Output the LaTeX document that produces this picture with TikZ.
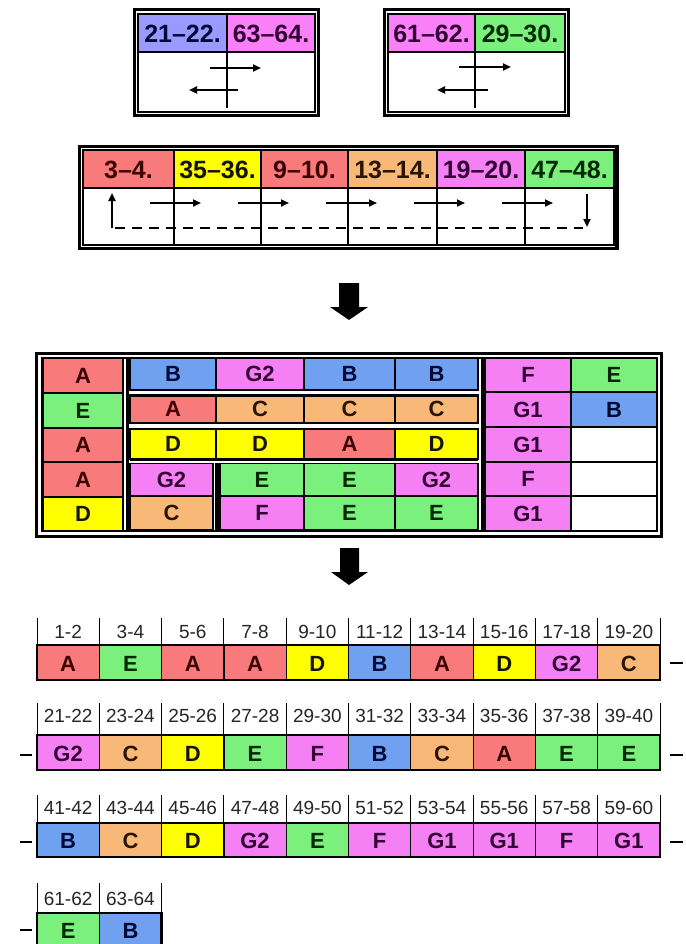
\documentclass[tikz,border=0pt]{standalone}
\usepackage{fontspec}
\setmainfont{Liberation Sans}
\usetikzlibrary{arrows.meta}
\definecolor{fillA}{RGB}{248,122,122}
\definecolor{fillE}{RGB}{124,240,124}
\definecolor{fillB}{RGB}{112,160,240}
\definecolor{fillD}{RGB}{255,255,0}
\definecolor{fillC}{RGB}{248,184,120}
\definecolor{fillF}{RGB}{244,128,244}
\colorlet{fillG1}{fillF}
\colorlet{fillG2}{fillF}
\definecolor{fillHB}{RGB}{152,154,255}
\definecolor{fillHM}{RGB}{250,128,250}
\definecolor{txtA}{RGB}{60,0,0}
\definecolor{txtE}{RGB}{0,40,0}
\definecolor{txtB}{RGB}{0,10,55}
\definecolor{txtD}{RGB}{20,20,0}
\definecolor{txtC}{RGB}{40,20,0}
\definecolor{txtF}{RGB}{50,0,50}
\colorlet{txtG1}{txtF}
\colorlet{txtG2}{txtF}
\tikzset{
  gridline/.style={draw=black, line width=1.2pt},
  letter/.style={font=\bfseries\fontsize{22}{22}\selectfont, inner sep=0pt},
  headtxt/.style={font=\bfseries\fontsize{25}{25}\selectfont, inner sep=0pt},
  numlbl/.style={font=\fontsize{19}{19}\selectfont, inner sep=0pt, text=black!85},
  arr/.style={line width=2pt, -{Triangle[length=8pt,width=7pt]}},
  divline/.style={line width=1.5pt},
  tickline/.style={line width=0.9pt},
  outerframe/.style={line width=3.5pt},
  innerframe/.style={line width=1.5pt},
  sepline/.style={line width=3pt},
  dashmark/.style={line width=1.5pt},
  bigarrow/.style={fill=black},
}
% letter cell: name, x1, y1, x2, y2, letter
\newcommand\lcell[6]{%
  \filldraw[fill=fill#6, gridline] (#2,#3) rectangle (#4,#5);
  \node[letter, text=txt#6] (#1) at ({(#2+#4)/2},{(#3+#5)/2}) {#6};}
% header cell: name, x1, y1, x2, y2, fill, text colour, text
\newcommand\hcell[8]{%
  \filldraw[fill=#6, gridline] (#2,#3) rectangle (#4,#5);
  \node[headtxt, text=#7] (#1) at ({(#2+#4)/2},{(#3+#5)/2+1}) {#8};}
% bottom row: name, labeltop, labelcenter, celltop, cellbottom, labels, letters, count
\newcommand\bottomrow[8]{%
  \foreach \lab [count=\i from 0] in {#6} {
    \pgfmathsetmacro\xa{37+62.3*\i}
    \pgfmathsetmacro\xb{37+62.3*(\i+1)}
    \node[numlbl] (#1l\i) at ({(\xa+\xb)/2},#3) {\lab};
    \draw[tickline] (\xa,#2) -- (\xa,#4);
    \draw[tickline] (\xb,#2) -- (\xb,#4);
  }
  \foreach \L [count=\i from 0] in {#7} {
    \pgfmathsetmacro\xa{37+62.3*\i}
    \pgfmathsetmacro\xb{37+62.3*(\i+1)}
    \filldraw[fill=fill\L, gridline] (\xa,#4) rectangle (\xb,#5);
    \node[letter, text=txt\L] (#1c\i) at ({(\xa+\xb)/2},{(#4+#5)/2+1}) {\L};
  }
  \draw[line width=2.5pt] (37,#4) rectangle ({37+62.3*#8},#5);
}
\begin{document}
\begin{tikzpicture}[x=1pt,y=-1pt]
\useasboundingbox[fill=white] (0,0) rectangle (685,944);

% ---------- top left box ----------
\draw[outerframe] (134.5,9.5) rectangle (318.5,115.5);
\draw[innerframe] (138,14) rectangle (315,112);
\hcell{tl1}{138}{14}{227}{52}{fillHB}{txtB}{21–22.}
\hcell{tl2}{227}{14}{315}{52}{fillHM}{txtF}{63–64.}
\draw[divline] (227,52) -- (227,108);
\coordinate (tlra) at (210,68); \coordinate (tlrb) at (261,68);
\coordinate (tlla) at (238,90); \coordinate (tllb) at (189,90);
\draw[arr] (tlra) -- (tlrb);
\draw[arr] (tlla) -- (tllb);

% ---------- top right box ----------
\draw[outerframe] (384.5,9.5) rectangle (568.5,115.5);
\draw[innerframe] (388,14) rectangle (565,112);
\hcell{tr1}{388}{14}{475}{52}{fillHM}{txtF}{61–62.}
\hcell{tr2}{475}{14}{565}{52}{fillE}{txtE}{29–30.}
\draw[divline] (475,52) -- (475,108);
\coordinate (trra) at (459,67); \coordinate (trrb) at (511,67);
\coordinate (trla) at (488,90); \coordinate (trlb) at (437,90);
\draw[arr] (trra) -- (trrb);
\draw[arr] (trla) -- (trlb);

% ---------- middle box ----------
\draw[outerframe] (79.5,146.5) rectangle (617,248.5);
\draw[innerframe] (83,150) rectangle (614,245);
\hcell{m1}{83}{150}{174}{188}{fillA}{txtA}{3–4.}
\hcell{m2}{174}{150}{261}{188}{fillD}{txtD}{35–36.}
\hcell{m3}{261}{150}{348}{188}{fillA}{txtA}{9–10.}
\hcell{m4}{348}{150}{437}{188}{fillC}{txtC}{13–14.}
\hcell{m5}{437}{150}{525}{188}{fillF}{txtF}{19–20.}
\hcell{m6}{525}{150}{614}{188}{fillE}{txtE}{47–48.}
\foreach \x in {174,261,348,437,525} \draw[divline] (\x,188) -- (\x,245);
\coordinate (mup0) at (112,228); \coordinate (mup1) at (112,193);
\coordinate (mdn0) at (587,194); \coordinate (mdn1) at (587,227);
\draw[arr] (mup0) -- (mup1);
\draw[arr] (mdn0) -- (mdn1);
\draw[line width=2.8pt, dash pattern=on 10pt off 7pt] (115,228) -- (583,228);
\foreach \i in {0,...,4} {
  \coordinate (mra\i) at ({150+88*\i},203);
  \coordinate (mrb\i) at ({201+88*\i},203);
  \draw[arr] (mra\i) -- (mrb\i);
}

% ---------- big down arrows ----------
\fill[bigarrow] (339,283) -- (359,283) -- (359,307) -- (368,307) -- (349,320) -- (330,307) -- (339,307) -- cycle;
\fill[bigarrow] (340,548) -- (359,548) -- (359,572) -- (368,572) -- (349,585) -- (331,572) -- (340,572) -- cycle;

% ---------- big table ----------
\draw[line width=3pt] (36.5,353.5) rectangle (661,536);
\draw[line width=1.2pt] (42,358) rectangle (657,531);
% left column
\lcell{L1}{43}{358}{123}{393}{A}
\lcell{L2}{43}{393}{123}{428}{E}
\lcell{L3}{43}{428}{123}{462}{A}
\lcell{L4}{43}{462}{123}{497}{A}
\lcell{L5}{43}{497}{123}{531}{D}
% middle block
\lcell{M11}{130}{358}{216}{390}{B}
\lcell{M12}{216}{358}{304}{390}{G2}
\lcell{M13}{304}{358}{395}{390}{B}
\lcell{M14}{395}{358}{478}{390}{B}
\lcell{M21}{130}{395}{216}{423}{A}
\lcell{M22}{216}{395}{304}{423}{C}
\lcell{M23}{304}{395}{395}{423}{C}
\lcell{M24}{395}{395}{478}{423}{C}
\lcell{M31}{130}{429}{216}{459}{D}
\lcell{M32}{216}{429}{304}{459}{D}
\lcell{M33}{304}{429}{395}{459}{A}
\lcell{M34}{395}{429}{478}{459}{D}
\lcell{M41}{130}{463.5}{213}{496}{G2}
\lcell{M42}{220}{463.5}{304}{496}{E}
\lcell{M43}{304}{463.5}{395}{496}{E}
\lcell{M44}{395}{463.5}{478}{496}{G2}
\lcell{M51}{130}{496}{213}{530}{C}
\lcell{M52}{220}{496}{304}{530}{F}
\lcell{M53}{304}{496}{395}{530}{E}
\lcell{M54}{395}{496}{478}{530}{E}
\draw[sepline] (130,395) -- (478,395);
\draw[sepline] (130,459) -- (478,459);
\draw[line width=3.5pt] (217,463) -- (217,530);
% right block
\lcell{R11}{485}{358}{571}{392}{F}
\lcell{R12}{571}{358}{657}{392}{E}
\lcell{R21}{485}{392}{571}{427}{G1}
\lcell{R22}{571}{392}{657}{427}{B}
\lcell{R31}{485}{427}{571}{462}{G1}
\filldraw[fill=white, gridline] (571,427) rectangle (657,462);
\lcell{R41}{485}{462}{571}{496}{F}
\filldraw[fill=white, gridline] (571,462) rectangle (657,496);
\lcell{R51}{485}{496}{571}{531}{G1}
\filldraw[fill=white, gridline] (571,496) rectangle (657,531);
% separators
\draw[sepline] (127,358) -- (127,531);
\draw[sepline] (482,358) -- (482,531);

% ---------- bottom rows ----------
\bottomrow{ra}{618}{632}{645}{680}{1-2,3-4,5-6,7-8,9-10,11-12,13-14,15-16,17-18,19-20}{A,E,A,A,D,B,A,D,G2,C}{10}
\bottomrow{rb}{703}{716}{735}{770}{21-22,23-24,25-26,27-28,29-30,31-32,33-34,35-36,37-38,39-40}{G2,C,D,E,F,B,C,A,E,E}{10}
\bottomrow{rc}{795}{808}{823}{857}{41-42,43-44,45-46,47-48,49-50,51-52,53-54,55-56,57-58,59-60}{B,C,D,G2,E,F,G1,G1,F,G1}{10}
\bottomrow{rd}{883}{899}{913}{947}{61-62,63-64}{E,B}{2}
% dashes
\coordinate (da1) at (670,663); \coordinate (db1) at (683,663);
\draw[dashmark] (da1) -- (db1);
\coordinate (da2) at (20,755); \coordinate (db2) at (32,755);
\draw[dashmark] (da2) -- (db2);
\coordinate (da3) at (670,755); \coordinate (db3) at (683,755);
\draw[dashmark] (da3) -- (db3);
\coordinate (da4) at (20,842); \coordinate (db4) at (32,842);
\draw[dashmark] (da4) -- (db4);
\coordinate (da5) at (670,842); \coordinate (db5) at (683,842);
\draw[dashmark] (da5) -- (db5);
\coordinate (da6) at (20,930); \coordinate (db6) at (32,930);
\draw[dashmark] (da6) -- (db6);
\end{tikzpicture}
\end{document}
